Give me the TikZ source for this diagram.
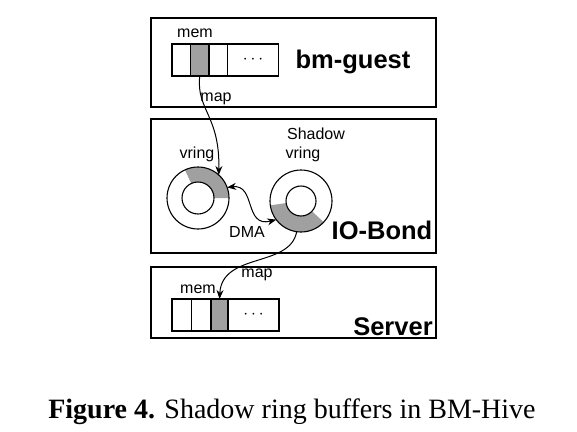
\documentclass[tikz,border=0pt]{standalone}
\usepackage{fontspec}
\setmainfont{Liberation Serif}
\setsansfont{Liberation Sans}
\usetikzlibrary{positioning,arrows.meta}
\definecolor{bufgray}{HTML}{A0A0A0}

\tikzset{
  hostbox/.style={draw, line width=1.1pt, minimum width=285pt, inner sep=0pt, outer sep=0pt, anchor=north west},
  memcell/.style={draw, line width=1.1pt, minimum height=32pt, inner sep=0pt, outer sep=0pt, anchor=north west},
  ringnode/.style={circle, draw, line width=1.1pt, inner sep=0pt, outer sep=0pt},
  lbl/.style={font=\sffamily\fontsize{16}{16}\selectfont, inner sep=0pt},
  title/.style={font=\sffamily\bfseries\fontsize{25.5}{25.5}\selectfont, inner sep=0pt},
  conn/.style={line width=1pt, -{Stealth[length=9pt,width=7pt]}},
  dma/.style={line width=1pt, {Stealth[length=9pt,width=7pt]}-{Stealth[length=9pt,width=7pt]}},
}

\begin{document}
\begin{tikzpicture}[x=1pt,y=1pt]
\useasboundingbox (0,0) rectangle (577,-431);

% hosts
\node[hostbox, minimum height=89pt] (guest) at (151,-18) {};
\node[hostbox, minimum height=134pt] (bond) at (151,-119) {};
\node[hostbox, minimum height=71pt] (server) at (151,-267) {};

% bm-guest memory
\node[memcell, minimum width=18.5pt] (g1) at (172,-44) {};
\node[memcell, minimum width=18.5pt, right=0pt of g1, fill=bufgray] (g2) {};
\node[memcell, minimum width=18.5pt, right=0pt of g2] (g3) {};
\node[memcell, minimum width=51pt, right=0pt of g3] (g4) {};
\node[lbl] at (g4) {$\cdots$};

% server memory
\node[memcell, minimum width=19.5pt] (s1) at (172,-299) {};
\node[memcell, minimum width=19.5pt, right=0pt of s1] (s2) {};
\node[memcell, minimum width=17pt, right=0pt of s2, fill=bufgray] (s3) {};
\node[memcell, minimum width=51pt, right=0pt of s3] (s4) {};
\node[lbl] at (s4) {$\cdots$};

% rings
\fill[bufgray] (198pt,-198pt) ++(0:31pt) arc[start angle=0, end angle=115, radius=31pt]
  -- ++(115:-15pt) arc[start angle=115, end angle=0, radius=16pt] -- cycle;
\node[ringnode, minimum size=62pt] (vring) at (198,-198) {};
\node[ringnode, minimum size=32pt] (vringin) at (vring.center) {};

\fill[bufgray] (301pt,-201pt) ++(188:31pt) arc[start angle=188, end angle=317, radius=31pt]
  -- ++(317:-16pt) arc[start angle=317, end angle=188, radius=15pt] -- cycle;
\node[ringnode, minimum size=62pt] (svring) at (301,-201) {};
\node[ringnode, minimum size=30pt] (svringin) at (svring.center) {};

% labels
\node[lbl] at (195,-33) {mem};
\node[lbl] at (216,-99) {map};
\node[lbl] at (197,-154) {vring};
\node[lbl] at (316,-134) {Shadow};
\node[lbl] at (303,-154) {vring};
\node[lbl] at (247,-232) {DMA};
\node[lbl] at (257,-275) {map};
\node[lbl] at (198,-289) {mem};
\node[title] at (353,-62) {bm-guest};
\node[title] at (382,-230) {IO-Bond};
\node[title] at (393,-327) {Server};

% connectors
\draw[conn] (g2.south) .. controls (196,-110) and (220,-115) .. (vring.48);
\draw[dma] (vring.20) .. controls (256,-184) and (244,-228) .. (svring.217);
\draw[conn] (svring.262) .. controls (290,-268) and (222,-252) .. (s3.north);

\node[font=\fontsize{28}{28}\selectfont, inner sep=0pt] (caption) at (292,-412)
  {\textbf{Figure 4.} Shadow ring buffers in BM-Hive};
\end{tikzpicture}
\end{document}
